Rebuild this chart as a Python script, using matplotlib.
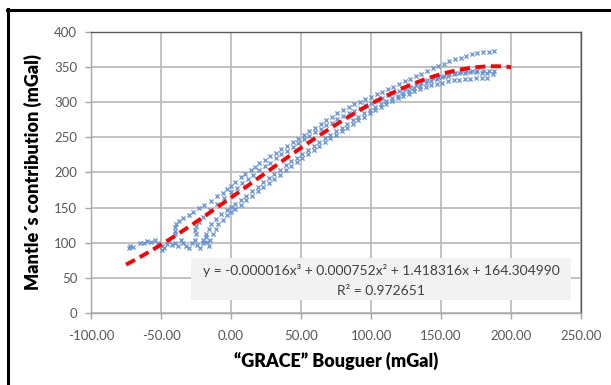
import numpy as np
import matplotlib
matplotlib.use('Agg')
import matplotlib.pyplot as plt
from matplotlib.lines import Line2D
from matplotlib.patches import Rectangle

plt.rcParams['font.family'] = ['Lato', 'DejaVu Sans']

# 散布データ
# 左下の散らばった点
x_low = [-73, -72, -70, -65, -62, -60, -57, -54, -52, -49, -49, -48, -46, -44,
         -42, -40, -38, -36, -34, -32, -30, -28, -26, -24, -22, -20, -18, -17, -16]
y_low = [92, 96, 94, 100, 99, 102, 101, 104, 100, 95, 90, 92, 98, 102,
         97, 100, 95, 104, 99, 96, 92, 100, 104, 97, 93, 100, 108, 101, 96]

# 上側の曲線
x_top = [-40, -40, -40, -39, -37, -34, -30, -27, -23, -19, -14, -10, -6, -3, 0,
         3, 7, 10, 14, 17, 20, 24, 28, 32, 36, 40, 44, 48, 52, 56, 60, 64, 68,
         72, 76, 80, 84, 88, 92, 96, 100, 104, 108, 112, 116, 120, 124, 128,
         132, 136, 140, 144, 148, 152, 156, 160, 164, 168, 172, 176, 180, 184, 188]
y_top = [112, 117, 123, 127, 131, 135, 140, 144, 149, 154, 160, 166, 171, 176, 181,
         187, 193, 198, 204, 208, 213, 218, 223, 228, 233, 238, 243, 248, 253,
         259, 264, 269, 274, 279, 284, 289, 293, 297, 301, 304, 308, 312, 315,
         319, 322, 326, 330, 333, 337, 340, 344, 348, 351, 355, 358, 361, 363,
         366, 368, 370, 371, 372, 373]

# 2本目の曲線
x_mid = [-25, -26, -25, -23, -20, -15, -10, -5, 0, 4, 8, 12, 16, 20, 24, 28, 32,
         36, 40, 44, 48, 52, 56, 60, 64, 68, 72, 76, 80, 84, 88, 92, 96, 100,
         104, 108, 112, 116, 120, 124, 128, 132, 136, 140, 144, 148, 152, 156,
         160, 164, 168, 172, 176, 180, 184, 188]
y_mid = [112, 118, 124, 130, 136, 146, 155, 163, 172, 178, 185, 191, 197, 203,
         209, 214, 220, 226, 231, 236, 242, 247, 252, 257, 262, 267, 271, 276,
         280, 284, 288, 292, 296, 299, 303, 306, 310, 313, 316, 319, 322, 325,
         328, 331, 334, 336, 338, 340, 342, 343, 344, 345, 345, 345, 345, 344]

# 下側の曲線A
x_la = [-20, -18, -16, -14, -11, -7, -3, 0, 3, 7, 11, 15, 19, 23, 27, 31, 35,
        39, 43, 47, 51, 55, 59, 63, 67, 71, 75, 79, 83, 87, 91, 95, 99, 103,
        107, 111, 115, 119, 123, 127, 131, 135, 139, 143, 147, 151, 155, 159,
        163, 167, 171, 175, 179, 183, 187]
y_la = [104, 112, 120, 127, 134, 141, 147, 151, 155, 161, 167, 173, 180, 186,
        192, 198, 204, 210, 216, 221, 227, 232, 238, 243, 249, 254, 259, 264,
        269, 274, 279, 284, 289, 293, 297, 302, 306, 309, 313, 316, 320, 323,
        327, 330, 333, 336, 338, 340, 341, 342, 343, 343, 342, 341, 340]

# 下側の曲線B
x_lb = [-15, -13, -11, -9, -6, -3, 0, 3, 7, 11, 15, 19, 23, 27, 31, 35, 39, 43,
        47, 51, 55, 59, 63, 67, 71, 75, 79, 83, 87, 91, 95, 99, 103, 107, 111,
        115, 119, 123, 127, 131, 135, 139, 143, 147, 151, 155, 159, 163, 167,
        171, 175, 179, 183]
y_lb = [104, 112, 120, 126, 133, 139, 144, 148, 154, 161, 167, 173, 179, 185,
        191, 197, 203, 209, 215, 221, 227, 232, 238, 243, 249, 254, 259, 264,
        269, 274, 279, 284, 289, 293, 298, 302, 306, 309, 312, 316, 319, 322,
        324, 326, 328, 330, 331, 332, 333, 333, 334, 334, 334]

# 3次多項式近似の係数と決定係数
coef = [-0.000016, 0.000752, 1.418316, 164.304990]
r2 = 0.972651
fit_range = (-75, 200)

fig = plt.figure(figsize=(6.11, 3.85), dpi=100)
ax = fig.add_axes([0.149, 0.187, 0.802, 0.730])

# 散布図
xs = x_low + x_top + x_mid + x_la + x_lb
ys = y_low + y_top + y_mid + y_la + y_lb
ax.scatter(xs, ys, marker='x', s=9, linewidths=1.0, color='#5B8BD0',
           alpha=0.85, zorder=3)

# 近似曲線
xf = np.linspace(fit_range[0], fit_range[1], 300)
yf = np.polyval(coef, xf)
ax.plot(xf, yf, color='#FF0000', lw=2.8, dashes=(2.6, 1.4), zorder=4)

# 軸の範囲と目盛
ax.set_xlim(-100, 250)
ax.set_ylim(0, 400)
ax.set_xticks(np.arange(-100, 251, 50))
ax.set_yticks(np.arange(0, 401, 50))
ax.set_xticklabels(['%.2f' % v for v in np.arange(-100, 251, 50)])
ax.tick_params(axis='both', colors='#A6A6A6', labelcolor='#595959',
               labelsize=9.5, length=4, width=1)
ax.tick_params(axis='x', pad=8)
ax.tick_params(axis='y', pad=6)

# グリッド
ax.grid(True, color='#BDBDBD', lw=1.3)
ax.set_axisbelow(True)
for s in ['top', 'right']:
    ax.spines[s].set_color('#5A5A5A')
    ax.spines[s].set_linewidth(1.0)
for s in ['left', 'bottom']:
    ax.spines[s].set_color('#A6A6A6')
    ax.spines[s].set_linewidth(1.0)

# 軸ラベル
ax.set_xlabel('\u201cGRACE\u201d Bouguer (mGal)', fontsize=13, fontweight='heavy',
              labelpad=7)
ax.set_ylabel('Mantle\u00b4s contribution (mGal)', fontsize=13,
              fontweight='heavy', labelpad=9)

# 数式ボックス
ax.add_patch(Rectangle((0.204, 0.046), 0.776, 0.150, transform=ax.transAxes,
                       facecolor='#F2F2F2', edgecolor='none', zorder=5))
eq = 'y = %.6fx\u00b3 + %.6fx\u00b2 + %.6fx + %.6f' % tuple(coef)
ax.text(0.592, 0.153, eq, transform=ax.transAxes, ha='center', va='center',
        fontsize=10, color='#404040', zorder=6)
ax.text(0.592, 0.080, 'R\u00b2 = %.6f' % r2, transform=ax.transAxes,
        ha='center', va='center', fontsize=10, color='#404040', zorder=6)

# 外枠(上と左)
fig.add_artist(Line2D([0.011, 1.0], [0.9753, 0.9753], color='black', lw=2.2))
fig.add_artist(Line2D([0.013, 0.013], [0.0, 0.9775], color='black', lw=2.2))

fig.savefig('out.png', dpi=100)
